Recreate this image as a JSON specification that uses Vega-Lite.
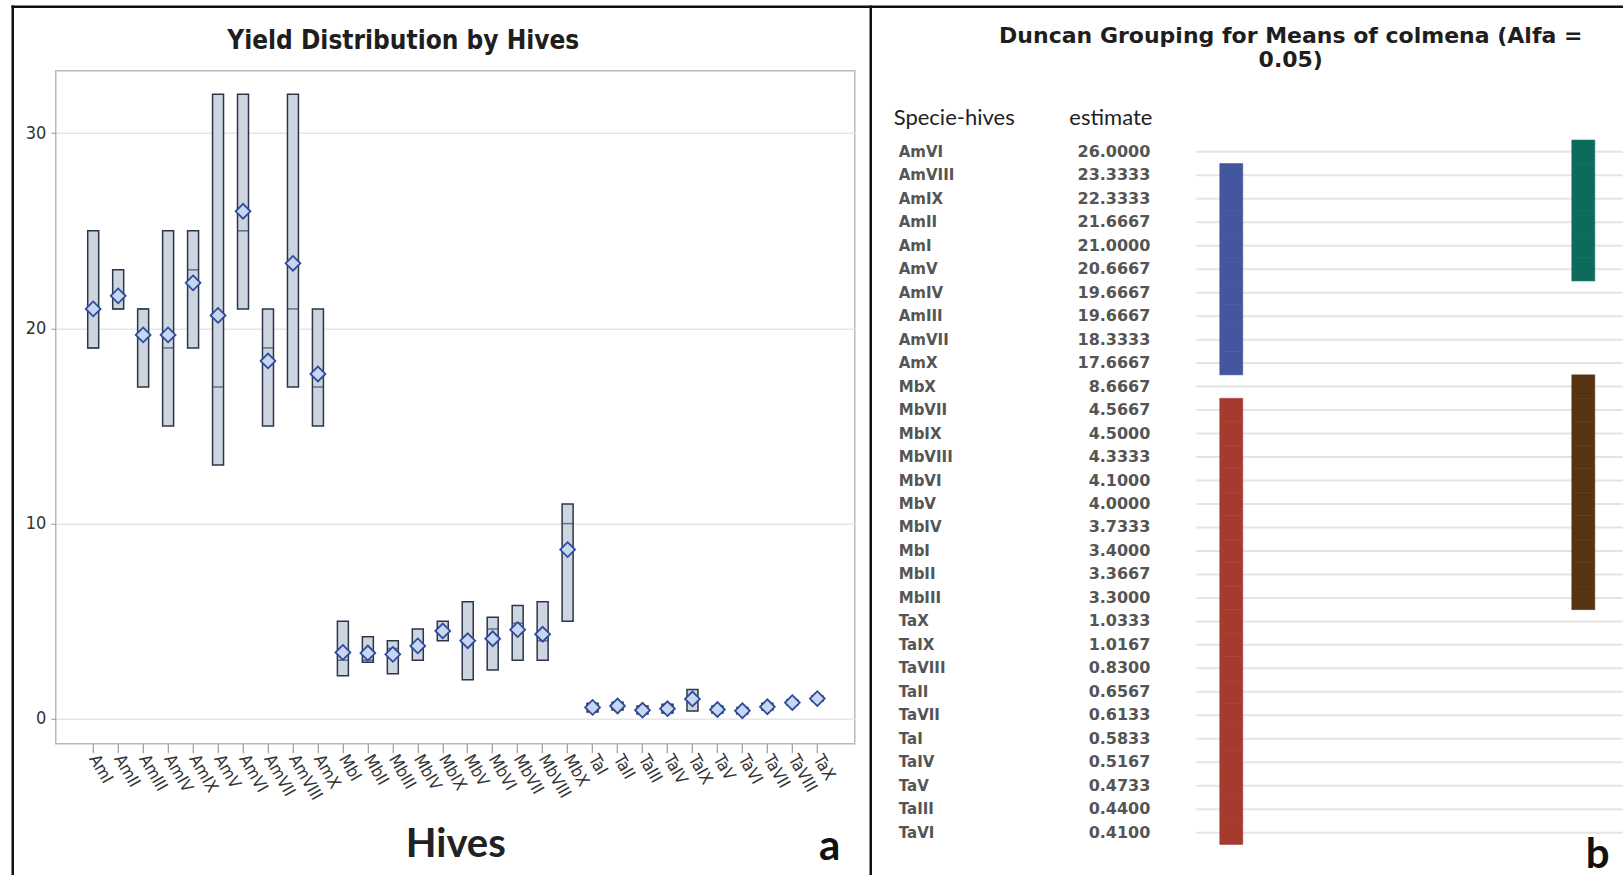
{
  "$schema": "https://vega.github.io/schema/vega-lite/v6.json",
  "padding": {"left": 9.75, "top": 3.75, "right": 0, "bottom": 0},
  "background": "white",
  "bounds": "flush",
  "spacing": 16,
  "config": {"view": {"stroke": null}},
  "datasets": {
    "hives": [
      {"hive": "AmVI", "lo": 21, "med": 25, "hi": 32, "mean": 26.0, "duncan": "A"},
      {"hive": "AmVIII", "lo": 17, "med": 21, "hi": 32, "mean": 23.3333, "duncan": "AB"},
      {"hive": "AmIX", "lo": 19, "med": 23, "hi": 25, "mean": 22.3333, "duncan": "AB"},
      {"hive": "AmII", "lo": 21, "med": 21, "hi": 23, "mean": 21.6667, "duncan": "AB"},
      {"hive": "AmI", "lo": 19, "med": 19, "hi": 25, "mean": 21.0, "duncan": "AB"},
      {"hive": "AmV", "lo": 13, "med": 17, "hi": 32, "mean": 20.6667, "duncan": "AB"},
      {"hive": "AmIV", "lo": 15, "med": 19, "hi": 25, "mean": 19.6667, "duncan": "B"},
      {"hive": "AmIII", "lo": 17, "med": 21, "hi": 21, "mean": 19.6667, "duncan": "B"},
      {"hive": "AmVII", "lo": 15, "med": 19, "hi": 21, "mean": 18.3333, "duncan": "B"},
      {"hive": "AmX", "lo": 15, "med": 17, "hi": 21, "mean": 17.6667, "duncan": "B"},
      {"hive": "MbX", "lo": 5, "med": 10, "hi": 11, "mean": 8.6667, "duncan": "C"},
      {"hive": "MbVII", "lo": 3.0, "med": 4.9, "hi": 5.8, "mean": 4.5667, "duncan": "CD"},
      {"hive": "MbIX", "lo": 4.0, "med": 4.5, "hi": 5.0, "mean": 4.5, "duncan": "CD"},
      {"hive": "MbVIII", "lo": 3.0, "med": 4.0, "hi": 6.0, "mean": 4.3333, "duncan": "CD"},
      {"hive": "MbVI", "lo": 2.5, "med": 4.6, "hi": 5.2, "mean": 4.1, "duncan": "CD"},
      {"hive": "MbV", "lo": 2.0, "med": 4.0, "hi": 6.0, "mean": 4.0, "duncan": "CD"},
      {"hive": "MbIV", "lo": 3.0, "med": 3.6, "hi": 4.6, "mean": 3.7333, "duncan": "CD"},
      {"hive": "MbI", "lo": 2.2, "med": 3.0, "hi": 5.0, "mean": 3.4, "duncan": "CD"},
      {"hive": "MbII", "lo": 2.9, "med": 3.0, "hi": 4.2, "mean": 3.3667, "duncan": "CD"},
      {"hive": "MbIII", "lo": 2.3, "med": 3.6, "hi": 4.0, "mean": 3.3, "duncan": "CD"},
      {"hive": "TaX", "lo": 0.9, "med": 1.03, "hi": 1.17, "mean": 1.0333, "duncan": "D"},
      {"hive": "TaIX", "lo": 0.4, "med": 1.15, "hi": 1.5, "mean": 1.0167, "duncan": "D"},
      {"hive": "TaVIII", "lo": 0.7, "med": 0.83, "hi": 0.96, "mean": 0.83, "duncan": "D"},
      {"hive": "TaII", "lo": 0.45, "med": 0.67, "hi": 0.85, "mean": 0.6567, "duncan": "D"},
      {"hive": "TaVII", "lo": 0.45, "med": 0.6, "hi": 0.79, "mean": 0.6133, "duncan": "D"},
      {"hive": "TaI", "lo": 0.35, "med": 0.6, "hi": 0.8, "mean": 0.5833, "duncan": "D"},
      {"hive": "TaIV", "lo": 0.3, "med": 0.5, "hi": 0.75, "mean": 0.5167, "duncan": "D"},
      {"hive": "TaV", "lo": 0.3, "med": 0.46, "hi": 0.66, "mean": 0.4733, "duncan": "D"},
      {"hive": "TaIII", "lo": 0.25, "med": 0.42, "hi": 0.65, "mean": 0.44, "duncan": "D"},
      {"hive": "TaVI", "lo": 0.25, "med": 0.4, "hi": 0.58, "mean": 0.41, "duncan": "D"}
    ]
  },
  "hconcat": [
    {
      "width": 799,
      "height": 673,
      "view": {"stroke": "#b9b9b9", "strokeWidth": 1.5},
      "layer": [
        {
          "data": {"name": "hives"},
          "layer": [
            {
              "mark": {"type": "bar", "width": {"band": 0.44}, "fill": "#cdd5e1", "stroke": "#2e3548", "strokeWidth": 1.5},
              "encoding": {
                "x": {"field": "hive", "type": "nominal", "sort": "ascending", "scale": {"paddingInner": 0, "paddingOuter": 1.0375},
                  "axis": {"labelAngle": 60, "labelAlign": "left", "labelBaseline": "middle", "labelFont": "Liberation Sans Narrow, DejaVu Sans Condensed, sans-serif", "labelFontSize": 17, "labelColor": "#333333", "labelPadding": 3, "tickSize": 9, "tickColor": "#888888", "tickWidth": 1, "domain": false, "grid": false, "title": "Hives", "titleFont": "Lato", "titleFontSize": 40, "titleFontWeight": "bold", "titleColor": "#222222", "titlePadding": 22}},
                "y": {"field": "lo", "type": "quantitative", "scale": {"domain": [-1.28, 33.2], "nice": false, "zero": false},
                  "axis": {"values": [0, 10, 20, 30], "title": null, "labelFont": "Liberation Sans Narrow, DejaVu Sans Condensed, sans-serif", "labelFontSize": 18, "labelColor": "#333333", "labelPadding": 5, "tickSize": 5, "tickColor": "#999999", "domain": false, "grid": true, "gridColor": "#e6e6e6", "gridWidth": 1.5}},
                "y2": {"field": "hi"}
              }
            },
            {
              "mark": {"type": "tick", "size": 11, "thickness": 1.5, "color": "#34415f"},
              "encoding": {
                "x": {"field": "hive", "type": "nominal", "sort": "ascending"},
                "y": {"field": "med", "type": "quantitative"}
              }
            },
            {
              "mark": {"type": "point", "shape": "diamond", "filled": true, "size": 220, "fill": "#c8d6f1", "stroke": "#2c4b9b", "strokeWidth": 1.8, "opacity": 1},
              "encoding": {
                "x": {"field": "hive", "type": "nominal", "sort": "ascending"},
                "y": {"field": "mean", "type": "quantitative"}
              }
            }
          ]
        },
        {
          "data": {"values": [{"mark": "frame"}]},
          "layer": [
            {
              "mark": {"type": "rule", "color": "#111111", "strokeWidth": 2.5, "strokeCap": "square"},
              "encoding": {
                "x": {"datum": -0.05382, "type": "quantitative", "scale": {"domain": [0, 1], "nice": false, "zero": false}, "axis": null},
                "y": {"datum": -0.19316, "type": "quantitative", "scale": {"domain": [0, 1], "nice": false, "zero": false}, "axis": null},
                "y2": {"datum": 1.0951}
              }
            },
            {
              "mark": {"type": "rule", "color": "#111111", "strokeWidth": 2.5, "strokeCap": "square"},
              "encoding": {
                "x": {"datum": -0.05382, "type": "quantitative"},
                "x2": {"datum": 1.95995},
                "y": {"datum": 1.0951, "type": "quantitative"}
              }
            },
            {
              "mark": {"type": "rule", "color": "#111111", "strokeWidth": 2.5, "strokeCap": "square"},
              "encoding": {
                "x": {"datum": 1.02003, "type": "quantitative"},
                "y": {"datum": -0.19316, "type": "quantitative"},
                "y2": {"datum": 1.0951}
              }
            },
            {
              "mark": {"type": "text", "text": "Yield Distribution by Hives", "align": "center", "baseline": "alphabetic", "font": "Liberation Sans Narrow, DejaVu Sans Condensed, sans-serif", "fontSize": 26, "fontWeight": "bold", "color": "#1e1e1e"},
              "encoding": {
                "x": {"datum": 0.43492, "type": "quantitative"},
                "y": {"datum": 1.03269, "type": "quantitative"}
              }
            },
            {
              "mark": {"type": "text", "text": "a", "align": "center", "baseline": "alphabetic", "font": "Lato", "fontSize": 42, "fontWeight": "bold", "color": "#111111"},
              "encoding": {
                "x": {"datum": 0.96871, "type": "quantitative"},
                "y": {"datum": -0.1724, "type": "quantitative"}
              }
            }
          ]
        }
      ],
      "resolve": {"scale": {"x": "independent", "y": "independent"}}
    },
    {
      "width": 752,
      "height": 773.7,
      "layer": [
        {
          "data": {"name": "hives"},
          "layer": [
            {
              "mark": {"type": "rule", "color": "#e4e4e4", "strokeWidth": 2},
              "encoding": {
                "x": {"datum": 0.43293, "type": "quantitative", "scale": {"domain": [0, 1], "nice": false, "zero": false}, "axis": null},
                "x2": {"datum": 1.0},
                "y": {"field": "hive", "type": "nominal", "sort": null, "scale": {"paddingInner": 0, "paddingOuter": 0, "range": [69.3, 773.7]}, "axis": null}
              }
            },
            {
              "transform": [{"filter": "indexof(datum.duncan, 'B') >= 0"}],
              "mark": {"type": "rect", "color": "#44569e", "stroke": "#44569e", "strokeWidth": 0.6},
              "encoding": {
                "x": {"datum": 0.46414, "type": "quantitative"},
                "x2": {"datum": 0.49469},
                "y": {"field": "hive", "type": "nominal", "sort": null}
              }
            },
            {
              "transform": [{"filter": "indexof(datum.duncan, 'D') >= 0"}],
              "mark": {"type": "rect", "color": "#a73a2e", "stroke": "#a73a2e", "strokeWidth": 0.6},
              "encoding": {
                "x": {"datum": 0.46414, "type": "quantitative"},
                "x2": {"datum": 0.49469},
                "y": {"field": "hive", "type": "nominal", "sort": null}
              }
            },
            {
              "transform": [{"filter": "indexof(datum.duncan, 'A') >= 0"}],
              "mark": {"type": "rect", "color": "#0d6b5c", "stroke": "#0d6b5c", "strokeWidth": 0.6},
              "encoding": {
                "x": {"datum": 0.93227, "type": "quantitative"},
                "x2": {"datum": 0.96282},
                "y": {"field": "hive", "type": "nominal", "sort": null}
              }
            },
            {
              "transform": [{"filter": "indexof(datum.duncan, 'C') >= 0"}],
              "mark": {"type": "rect", "color": "#583311", "stroke": "#583311", "strokeWidth": 0.6},
              "encoding": {
                "x": {"datum": 0.93227, "type": "quantitative"},
                "x2": {"datum": 0.96282},
                "y": {"field": "hive", "type": "nominal", "sort": null}
              }
            },
            {
              "mark": {"type": "text", "align": "left", "baseline": "middle", "font": "DejaVu Sans", "fontSize": 15, "fontWeight": "bold", "color": "#555555"},
              "encoding": {
                "x": {"datum": 0.03718, "type": "quantitative"},
                "y": {"field": "hive", "type": "nominal", "sort": null},
                "text": {"field": "hive", "type": "nominal"}
              }
            },
            {
              "mark": {"type": "text", "align": "right", "baseline": "middle", "font": "DejaVu Sans", "fontSize": 16, "fontWeight": "bold", "color": "#555555"},
              "encoding": {
                "x": {"datum": 0.37185, "type": "quantitative"},
                "y": {"field": "hive", "type": "nominal", "sort": null},
                "text": {"field": "mean", "type": "quantitative", "format": ".4f"}
              }
            }
          ]
        },
        {
          "data": {"values": [{"mark": "header"}]},
          "layer": [
            {
              "mark": {"type": "text", "text": ["Duncan Grouping for Means of colmena (Alfa =", "0.05)"], "align": "center", "baseline": "middle", "lineHeight": 24, "font": "DejaVu Sans", "fontSize": 22, "fontWeight": "bold", "color": "#1e1e1e"},
              "encoding": {
                "x": {"datum": 0.55851, "type": "quantitative"},
                "y": {"datum": 1.04524, "type": "quantitative", "scale": {"domain": [0, 1], "nice": false, "zero": false}, "axis": null}
              }
            },
            {
              "mark": {"type": "text", "text": "Specie-hives", "align": "left", "baseline": "middle", "font": "Lato", "fontSize": 22, "color": "#222222"},
              "encoding": {
                "x": {"datum": 0.03054, "type": "quantitative"},
                "y": {"datum": 0.93925, "type": "quantitative"}
              }
            },
            {
              "mark": {"type": "text", "text": "estimate", "align": "right", "baseline": "middle", "font": "Lato", "fontSize": 22, "color": "#222222"},
              "encoding": {
                "x": {"datum": 0.3745, "type": "quantitative"},
                "y": {"datum": 0.93925, "type": "quantitative"}
              }
            },
            {
              "mark": {"type": "text", "text": "b", "align": "center", "baseline": "alphabetic", "font": "Lato", "fontSize": 42, "fontWeight": "bold", "color": "#111111"},
              "encoding": {
                "x": {"datum": 0.9668, "type": "quantitative"},
                "y": {"datum": -0.03012, "type": "quantitative"}
              }
            }
          ]
        }
      ],
      "resolve": {"scale": {"y": "independent"}}
    }
  ]
}
